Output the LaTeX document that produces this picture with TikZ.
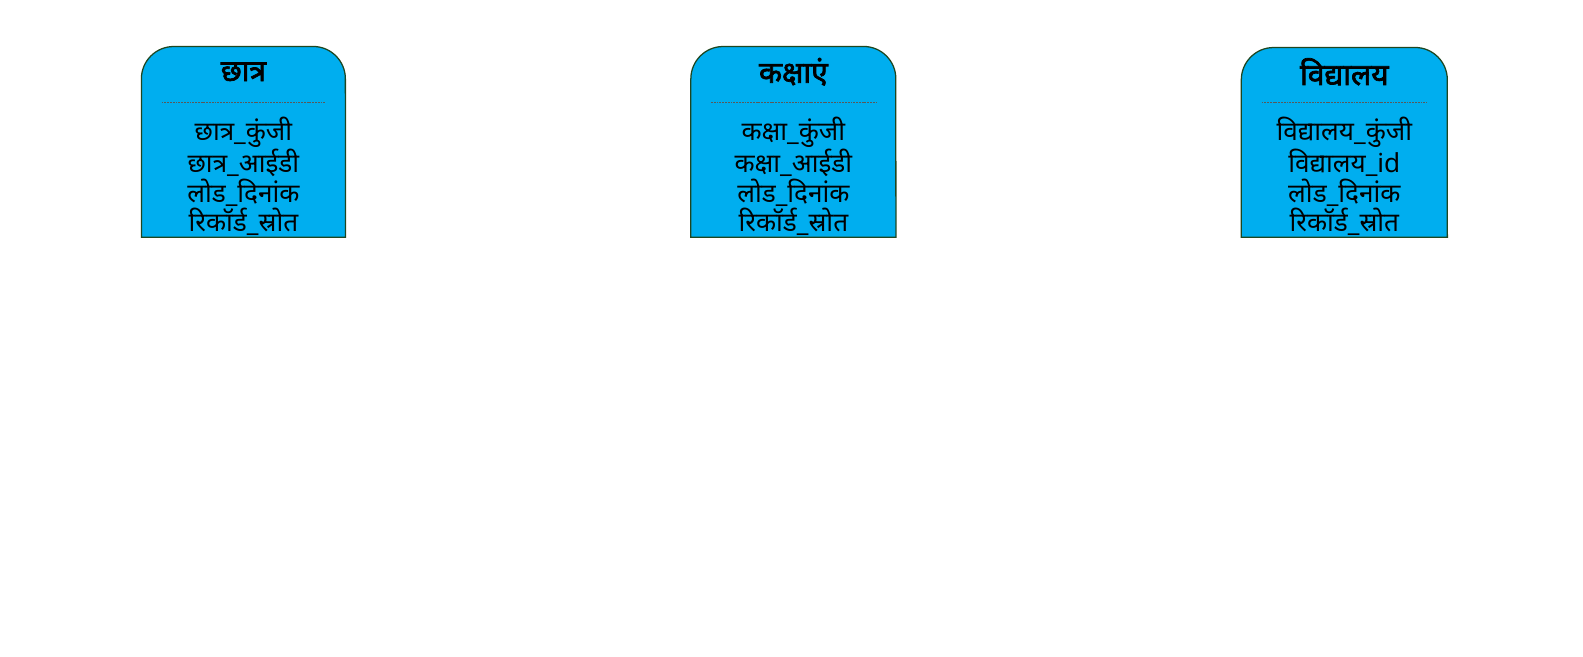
\documentclass[tikz,border=0pt]{standalone}
\usepackage{fontspec}
\newfontfamily\devfont[Script=Devanagari]{Noto Sans}
\newfontfamily\devbold[Script=Devanagari,FakeBold=2.4]{Noto Sans}
\begin{document}
\begin{tikzpicture}[x=0.7575bp,y=-0.7575bp]
\definecolor{boxfill}{HTML}{00AEEF}
\definecolor{boxline}{HTML}{1E4620}
\tikzset{
  entbox/.style={draw=boxline, fill=boxfill, line width=0.95pt},
  enttitle/.style={font=\devbold\fontsize{22.5}{24}\selectfont, inner sep=0pt, anchor=center},
  entbody/.style={font=\devfont\fontsize{19.7}{22.1}\selectfont, inner sep=0pt, align=center, anchor=north},
  sepline/.style={draw=black!65, dash pattern=on 1.4pt off 0.7pt, line width=0.35pt}}
\useasboundingbox (0,0) rectangle (1567.3,649.5);
\foreach \xa/\xb/\yt/\nm in {140/342/46/a, 684/887/46/b, 1229/1433/47/c}{
  \draw[entbox] (\xa,235) -- (\xa,\yt+32) arc[start angle=180,end angle=90,radius=24.2bp]
    -- (\xb-32,\yt) arc[start angle=90,end angle=0,radius=24.2bp] -- (\xb,235) -- cycle;
  \coordinate (sepL\nm) at (\xa+20,101);
  \coordinate (sepR\nm) at (\xb-20,101);
  \draw[sepline] (sepL\nm) -- (sepR\nm);
}
\node[enttitle] (t1) at (241,71) {छात्र};
\node[enttitle] (t2) at (785.5,71) {कक्षाएं};
\node[enttitle] (t3) at (1331,71) {विद्यालय};
\begin{scope}
\clip (0,0) rectangle (1567,234.5);
\node[entbody] (b1) at (241,116) {छात्र\_कुंजी\\छात्र\_आईडी\\लोड\_दिनांक\\रिकॉर्ड\_स्रोत};
\node[entbody] (b2) at (785.5,116) {कक्षा\_कुंजी\\कक्षा\_आईडी\\लोड\_दिनांक\\रिकॉर्ड\_स्रोत};
\node[entbody] (b3) at (1331,116) {विद्यालय\_कुंजी\\विद्यालय\_id\\लोड\_दिनांक\\रिकॉर्ड\_स्रोत};
\end{scope}
\end{tikzpicture}
\end{document}
